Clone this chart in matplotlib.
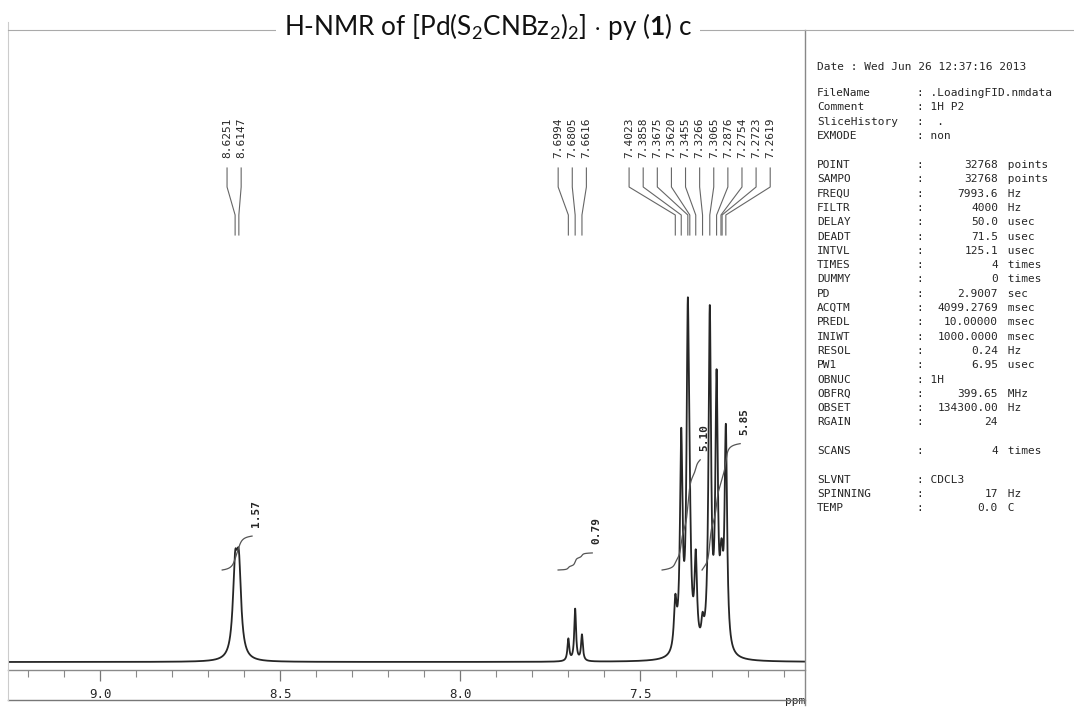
import matplotlib.pyplot as plt
import numpy as np

W, H = 1074, 715

# resolved lines: shift (ppm), intensity, half width (ppm)
shifts = [8.6251, 8.6147,
          7.6994, 7.6805, 7.6616,
          7.4023, 7.3858, 7.3675, 7.3620, 7.3455, 7.3266,
          7.3065, 7.2876, 7.2754, 7.2723, 7.2619]
heights = [82, 84,
           22, 52, 26,
           48, 210, 325, 60, 88, 22,
           337, 262, 40, 40, 218]
widths = [0.0075, 0.0075,
          0.003, 0.003, 0.003,
          0.0045, 0.0042, 0.0042, 0.0042, 0.0042, 0.0042,
          0.0042, 0.0042, 0.0042, 0.0042, 0.0042]

# peak-pick label groups
label_groups = [[8.6251, 8.6147],
                [7.6994, 7.6805, 7.6616],
                [7.4023, 7.3858, 7.3675, 7.3620, 7.3455, 7.3266,
                 7.3065, 7.2876, 7.2754, 7.2723, 7.2619]]

# integration regions (ppm, left -> right) and values
int_regions = [(8.661, 8.578), (7.728, 7.633), (7.439, 7.333), (7.328, 7.222)]
int_values = [1.57, 0.79, 5.10, 5.85]
int_unit = 21.6      # plot height per integral unit
int_start = 92       # level where each integral curve starts

# acquisition parameters
header_names = ["FileName", "Comment", "SliceHistory", "EXMODE"]
header_values = [".LoadingFID.nmdata", "1H P2", " .", "non"]
param_names = ["POINT", "SAMPO", "FREQU", "FILTR", "DELAY", "DEADT", "INTVL",
               "TIMES", "DUMMY", "PD", "ACQTM", "PREDL", "INIWT", "RESOL",
               "PW1", "OBNUC", "OBFRQ", "OBSET", "RGAIN"]
param_values = ["32768", "32768", "7993.6", "4000", "50.0", "71.5", "125.1",
                "4", "0", "2.9007", "4099.2769", "10.00000", "1000.0000",
                "0.24", "6.95", "", "399.65", "134300.00", "24"]
param_units = ["points", "points", "Hz", "Hz", "usec", "usec", "usec",
               "times", "times", "sec", "msec", "msec", "msec", "Hz",
               "usec", "", "MHz", "Hz", ""]
# parameters printed as text right after the colon
param_text = {"OBNUC": "1H", "SLVNT": "CDCL3"}
tail_names = ["SCANS", "SLVNT", "SPINNING", "TEMP"]
tail_values = ["4", "", "17", "0.0"]
tail_units = ["times", "", "Hz", "C"]

ink = "#262626"
mono = "DejaVu Sans Mono"


def fx(px):
    return px / W


def fy(py):
    return 1 - py / H


ppm = np.linspace(9.256, 7.042, 12000)
spec = np.zeros_like(ppm)
for s, h, w in zip(shifts, heights, widths):
    spec += h / (1 + ((ppm - s) / w) ** 2)

fig = plt.figure(figsize=(W / 100, H / 100), dpi=100)
fig.patch.set_facecolor("white")

ax = fig.add_axes([fx(8), fy(670), fx(797), (670 - 30) / H])
ax.set_xlim(9.256, 7.042)
ax.set_ylim(-8, 632)
ax.plot(ppm, spec, color=ink, lw=1.3)

for side in ["top", "left", "right"]:
    ax.spines[side].set_visible(False)
ax.spines["bottom"].set_color("#8a8a8a")
ax.spines["bottom"].set_linewidth(1.0)
ax.set_yticks([])
ax.set_xticks([9.0, 8.5, 8.0, 7.5])
ax.set_xticklabels(["9.0", "8.5", "8.0", "7.5"], fontfamily=mono, fontsize=9,
                   color=ink)
ax.set_xticks(np.arange(7.1, 9.25, 0.1), minor=True)
ax.tick_params(axis="x", which="major", length=8, width=0.9, color="#777777",
               pad=5)
ax.tick_params(axis="x", which="minor", length=5, width=0.8, color="#888888")

# integral curves
for (a, b), val in zip(int_regions, int_values):
    m = (ppm <= a) & (ppm >= b)
    xs = ppm[m]
    cum = np.cumsum(spec[m])
    cum = (cum - cum[0]) / (cum[-1] - cum[0])
    ys = int_start + cum * val * int_unit
    ax.plot(xs, ys, color="#555555", lw=0.9)
    ax.text(xs[-1] - 0.012, ys[-1] + 9, f"{val:.2f}", rotation=90,
            ha="center", va="bottom", fontfamily=mono, fontsize=8,
            fontweight="bold", color=ink)

# peak-pick labels with connectors
step = 0.0392
for group in label_groups:
    c = np.mean(group) + 0.008
    n = len(group)
    for i, s in enumerate(group):
        lx = c + (n - 1) / 2 * step - i * step
        ax.plot([lx, lx, s, s], [494, 475, 447, 427], color="#666666", lw=0.8)
        ax.text(lx, 504, f"{s:.4f}", rotation=90, ha="center", va="bottom",
                fontfamily=mono, fontsize=8, color=ink)

ax.text(1.0, -0.04, "ppm", transform=ax.transAxes, ha="right", va="top",
        fontfamily=mono, fontsize=8, color=ink)

# frame lines
fig.add_artist(plt.Line2D([fx(8), fx(805)], [fy(700), fy(700)],
                          color="#777777", lw=1.0))
fig.add_artist(plt.Line2D([fx(805), fx(805)], [fy(30), fy(705)],
                          color="#888888", lw=1.0))
fig.add_artist(plt.Line2D([fx(8), fx(8)], [fy(22), fy(700)],
                          color="#cccccc", lw=0.8))
fig.add_artist(plt.Line2D([fx(8), fx(1074)], [fy(30), fy(30)],
                          color="#aaaaaa", lw=0.8))

plt.rcParams["mathtext.fontset"] = "custom"
plt.rcParams["mathtext.rm"] = "Lato"
plt.rcParams["mathtext.bf"] = "Lato:bold"
fig.text(fx(488), fy(27),
         r"H-NMR of [Pd(S$_2$CNBz$_2$)$_2$] $\cdot$ py ($\mathbf{1}$) c",
         ha="center", va="center", fontsize=18.8, family="Lato",
         color="#111111", bbox=dict(facecolor="white", edgecolor="none", pad=6))

# parameter panel
x_name, x_colon, x_val, x_unit = 817, 917, 998, 1001
tsize = 8
fig.text(fx(x_name), fy(67), "Date : Wed Jun 26 12:37:16 2013",
         fontfamily=mono, fontsize=tsize, va="center", color=ink)

row = 14.3
y = 93
for name, val in zip(header_names, header_values):
    fig.text(fx(x_name), fy(y), name, fontfamily=mono, fontsize=tsize,
             va="center", color=ink)
    fig.text(fx(x_colon), fy(y), ": " + val, fontfamily=mono, fontsize=tsize,
             va="center", color=ink)
    y += row


def param_row(y, name, val, unit):
    fig.text(fx(x_name), fy(y), name, fontfamily=mono, fontsize=tsize,
             va="center", color=ink)
    fig.text(fx(x_colon), fy(y), ": " + param_text.get(name, ""),
             fontfamily=mono, fontsize=tsize, va="center", color=ink)
    if val:
        fig.text(fx(x_val), fy(y), val, fontfamily=mono, fontsize=tsize,
                 va="center", ha="right", color=ink)
    if unit:
        fig.text(fx(x_unit), fy(y), " " + unit, fontfamily=mono,
                 fontsize=tsize, va="center", color=ink)


y = 165
for name, val, unit in zip(param_names, param_values, param_units):
    param_row(y, name, val, unit)
    y += row

y += row
param_row(y, tail_names[0], tail_values[0], tail_units[0])
y += 2 * row
for name, val, unit in zip(tail_names[1:], tail_values[1:], tail_units[1:]):
    param_row(y, name, val, unit)
    y += row

fig.savefig("out.png", dpi=100, facecolor="white")
